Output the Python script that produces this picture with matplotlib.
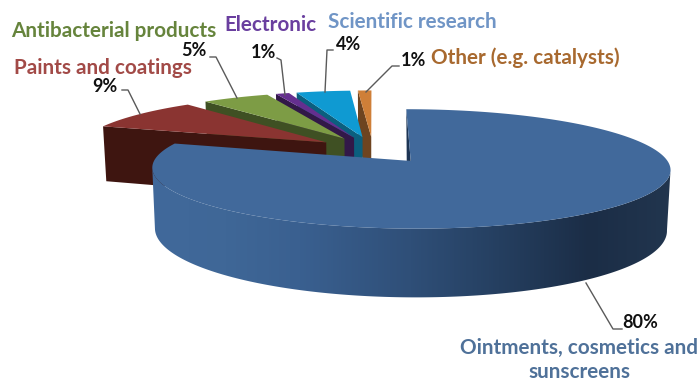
import numpy as np
import matplotlib
matplotlib.use("Agg")
import matplotlib.pyplot as plt
from matplotlib.colors import LinearSegmentedColormap, to_rgb
from matplotlib.patches import Polygon

# 各用途的占比 (%), 顺时针从正上方开始
names = ["Ointments, cosmetics and\nsunscreens", "Paints and coatings", "Antibacterial products",
         "Electronic", "Scientific research", "Other (e.g. catalysts)"]
values = [80, 9, 5, 1, 4, 1]
pct_labels = ["80%", "9%", "5%", "1%", "4%", "1%"]

top_colors = ["#41699b", "#8a3431", "#7d9c45", "#652f8f", "#0f9ad2", "#cf7f38"]
side_colors = ["#2a4a70", "#3e1510", "#3f5023", "#321848", "#0b5f7e", "#6e4420"]
name_colors = ["#4f7199", "#a24a47", "#66843c", "#6a3f9f", "#7095c6", "#a8692f"]

# 透视投影参数 (像素)
OX, OY = 373, 149.4
A, B = 250, 55.6
K = 0.13       # 透视强度
EXPLODE = 0.23
MAIN_EXPLODE = 0.25
DEPTH = 58


def project(X, Y, z=0.0):
    s = 1.0 / (1.0 + K * Y)
    x = OX + A * X * s * (1 - 0.012 * z)
    y = OY - B * Y * s + DEPTH * s * z
    return x, y


def rim(theta, cx, cy, z=0.0):
    return project(cx + np.sin(theta), cy + np.cos(theta), z)


fig = plt.figure(figsize=(6.99, 3.83), dpi=100)
ax = fig.add_axes([0, 0, 1, 1])
ax.set_xlim(0, 699)
ax.set_ylim(383, 0)
ax.axis("off")

vals = np.array(values, dtype=float)
edges = np.radians(np.concatenate([[0], np.cumsum(vals)]) / vals.sum() * 360)

# 后面的扇形先画, 后画的盖住前面的侧面
for i in [5, 4, 3, 2, 1]:
    t0, t1 = edges[i], edges[i + 1]
    mid = (t0 + t1) / 2
    cx, cy = EXPLODE * np.sin(mid), EXPLODE * np.cos(mid)
    apex = project(cx, cy)
    apex_low = project(cx, cy, 1)
    p0 = rim(t0, cx, cy)
    p0_low = rim(t0, cx, cy, 1)
    ax.fill([p0[0], apex[0], apex_low[0], p0_low[0]], [p0[1], apex[1], apex_low[1], p0_low[1]],
            color=side_colors[i], lw=0, zorder=2)
    th = np.linspace(t0, t1, 40)
    rx, ry = rim(th, cx, cy)
    ax.fill(np.r_[apex[0], rx], np.r_[apex[1], ry], color=top_colors[i], lw=0, zorder=2)

# 主扇形
t0, t1 = edges[0], edges[1]
mid = (t0 + t1) / 2
cx, cy = MAIN_EXPLODE * np.sin(mid), MAIN_EXPLODE * np.cos(mid)
th = np.linspace(t0, t1, 361)
apex = project(cx, cy)
tx, ty = rim(th, cx, cy)
bx, by = rim(th, cx, cy, 1)

# 主扇形的外侧面只取最右到最左这一段, 按水平位置渐变
j0, j1 = np.argmax(tx), np.argmin(tx)
x_lo, x_hi = 150.0, 676.0
side_stops = [(150, "#41699b"), (225, "#3f6797"), (300, "#3a6090"), (410, "#2f4f78"),
              (500, "#253f60"), (590, "#1b2d46"), (676, "#22364f")]
cmap = LinearSegmentedColormap.from_list(
    "side", [((x - x_lo) / (x_hi - x_lo), to_rgb(c)) for x, c in side_stops])
im = ax.imshow(np.linspace(0, 1, 512)[None, :], cmap=cmap, aspect="auto",
               extent=(x_lo, x_hi, 320, 120), zorder=3)
side_path = Polygon(np.c_[np.r_[tx[j0:j1 + 1], bx[j0:j1 + 1][::-1]], np.r_[ty[j0:j1 + 1], by[j0:j1 + 1][::-1]]],
                    closed=True, transform=ax.transData, fc="none", lw=0)
ax.add_patch(side_path)
im.set_clip_path(side_path)
ax.set_xlim(0, 699)
ax.set_ylim(383, 0)

# 缺口处可见的窄侧面
ax.fill([tx[0], apex[0], apex[0] - 4], [ty[0], apex[1], apex[1]], color="#1d3554", lw=0, zorder=3)
ax.fill(np.r_[apex[0], tx], np.r_[apex[1], ty], color=top_colors[0], lw=0, zorder=4)

# 引线: 折线端点
leaders = [
    [(622, 329), (613, 329), (586, 283)],
    [(122, 90), (128, 90), (140, 114)],
    [(210, 57), (216, 57), (237, 98)],
    [(277, 58), (281, 60), (285, 95)],
    [(333, 50), (327, 50), (325, 92)],
    [(399, 66), (392, 66), (366, 92)],
]
for pts in leaders:
    xs, ys = zip(*pts)
    ax.plot(xs, ys, color="#5a5a5a", lw=1.0, zorder=5)

font = "Lato"
pct_pos = [(640, 323), (105, 86), (194, 51), (264, 52), (349, 45), (413, 61)]
for lab, (x, y) in zip(pct_labels, pct_pos):
    ax.text(x, y, lab, ha="center", va="center", fontsize=13, fontweight="bold",
            family=font, color="#111111", zorder=6)

name_pos = [(579, 360), (103, 68), (114, 31), (270, 25), (412, 22), (525, 58)]
for i, (x, y) in enumerate(name_pos):
    ax.text(x, y, names[i], ha="center", va="center", fontsize=14.9, fontweight="bold",
            family=font, color=name_colors[i], linespacing=1.3, zorder=6)

fig.savefig("out.png", dpi=100)
